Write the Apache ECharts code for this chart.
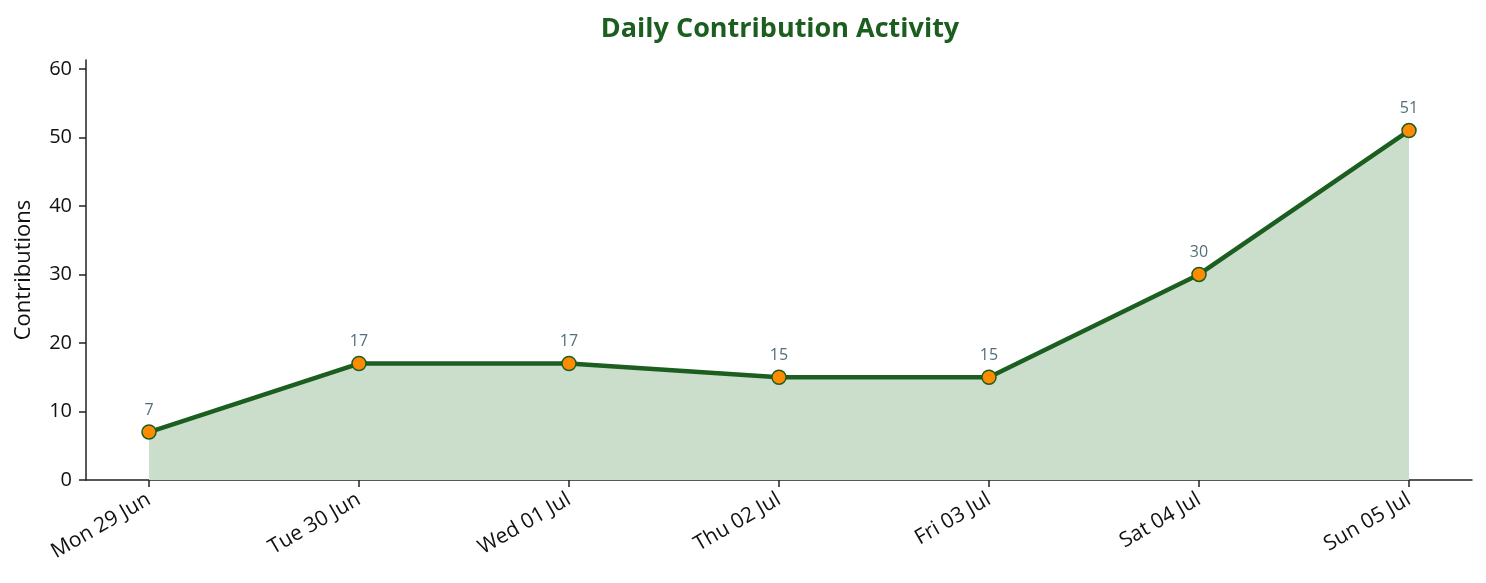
<!DOCTYPE html>
<html>
<head>
<meta charset="utf-8">
<script src="https://cdn.jsdelivr.net/npm/echarts@6/dist/echarts.min.js"></script>
<style>
  html, body { margin: 0; padding: 0; background: #fff; }
  #main { width: 1486px; height: 583px; }
</style>
</head>
<body>
<div id="main"></div>
<script type="text/javascript">
    // data
    var days = ['Mon 29 Jun', 'Tue 30 Jun', 'Wed 01 Jul', 'Thu 02 Jul', 'Fri 03 Jul', 'Sat 04 Jul', 'Sun 05 Jul'];
    var contributions = [7, 17, 17, 15, 15, 30, 51];
    var yTicks = [0, 10, 20, 30, 40, 50, 60];

    var dayIdx = days.map(function (d, i) { return i; });
    var points = contributions.map(function (v, i) { return [i, v]; });

    var font = 'Open Sans';
    var myChart = echarts.init(document.getElementById('main'));
    myChart.setOption({
        animation: false,
        title: {
            text: 'Daily Contribution Activity',
            left: 775,
            textAlign: 'center',
            top: 11,
            textStyle: { fontFamily: font, fontSize: 27, fontWeight: 'bold', color: '#1b5e20' }
        },
        grid: { left: 86, right: 14, top: 60, bottom: 103 },
        xAxis: {
            type: 'value',
            min: -0.3,
            max: 6.3,
            splitLine: { show: false },
            axisLine: { show: true, onZero: false, lineStyle: { color: '#222', width: 1.5 } },
            axisTick: { show: true, customValues: dayIdx, length: 7, lineStyle: { color: '#222', width: 1.5 } },
            axisLabel: {
                customValues: dayIdx,
                rotate: 30,
                margin: 18,
                fontFamily: font,
                fontSize: 21,
                color: '#111',
                formatter: function (v) { return days[Math.round(v)]; }
            }
        },
        yAxis: {
            type: 'value',
            min: 0,
            max: 61.3,
            name: 'Contributions',
            nameLocation: 'middle',
            nameGap: 51,
            nameTextStyle: { fontFamily: font, fontSize: 22, color: '#111' },
            splitLine: { show: false },
            axisLine: { show: true, onZero: false, lineStyle: { color: '#222', width: 1.5 } },
            axisTick: { show: true, customValues: yTicks, length: 7, lineStyle: { color: '#222', width: 1.5 } },
            axisLabel: {
                customValues: yTicks,
                margin: 14,
                fontFamily: font,
                fontSize: 20,
                color: '#111'
            }
        },
        series: [
            {
                type: 'line',
                data: points,
                symbol: 'circle',
                symbolSize: 14,
                lineStyle: { color: '#1b5e20', width: 4.5 },
                itemStyle: { color: '#ff8c00', borderColor: '#1b5e20', borderWidth: 1.5 },
                areaStyle: { color: '#cbdecb', opacity: 1 },
                label: {
                    show: true,
                    position: 'top',
                    distance: 6,
                    fontFamily: font,
                    fontSize: 16,
                    color: '#546e7a',
                    formatter: function (p) { return p.value[1]; }
                }
            }
        ]
    });
</script>
</body>
</html>
